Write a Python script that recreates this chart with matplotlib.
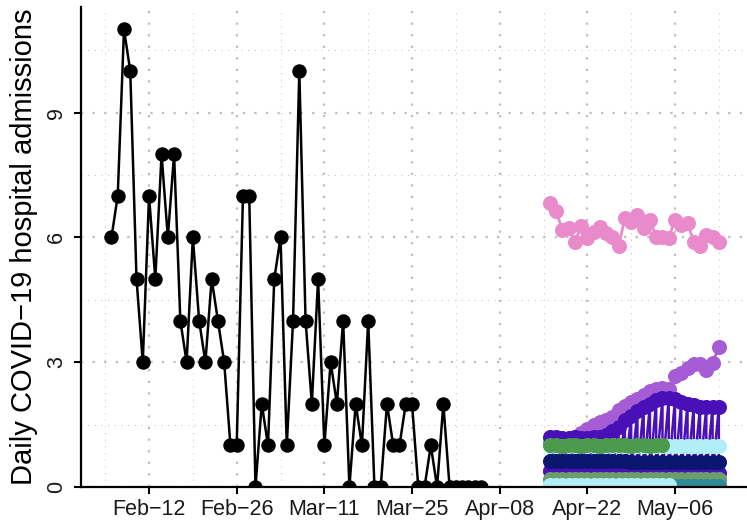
import matplotlib
matplotlib.use("Agg")
import matplotlib.pyplot as plt
import matplotlib.dates as mdates
import numpy as np
import pandas as pd

plt.rcParams['font.family'] = ['Liberation Sans', 'DejaVu Sans']

# ---------------- data ----------------
obs_start = "2024-02-06"
obs_values = [6, 7, 11, 10, 5, 3, 7, 5, 8, 6, 8, 4, 3, 6, 4, 3, 5, 4, 3, 1,
              1, 7, 7, 0, 2, 1, 5, 6, 1, 4, 10, 4, 2, 5, 1, 3, 2, 4, 0, 2,
              1, 4, 0, 0, 2, 1, 1, 2, 2, 0, 0, 1, 0, 2, 0, 0, 0, 0, 0, 0]

fc_start = "2024-04-16"
fc_pink_high = [6.82, 6.64, 6.18, 6.22, 5.90, 6.27, 5.98, 6.14, 6.26, 6.10, 6.02, 5.80, 6.46, 6.38,
                6.54, 6.22, 6.42, 6.02, 6.02, 5.98, 6.43, 6.30, 6.34, 5.90, 5.79, 6.06, 6.02, 5.90]
fc_purple = [1.05, 1.07, 1.10, 1.12, 1.20, 1.30, 1.40, 1.50, 1.56, 1.62, 1.68, 1.85, 1.95, 2.05,
             2.12, 2.20, 2.30, 2.35, 2.38, 2.36, 2.68, 2.75, 2.85, 2.95, 2.95, 2.82, 2.98, 3.37]
fc_pink_low = [0.42, 0.35, 0.30, 0.38, 0.32, 0.28, 0.30, 0.35, 0.40, 0.33, 0.30, 0.35, 0.38, 0.30,
               0.36, 0.30, 0.38, 0.34, 0.30, 0.25, 0.20, 0.18, 0.20, 0.15, 0.17, 0.14, 0.15, 0.12]
fc_violet_hi = [1.20, 1.20, 1.18, 1.18, 1.20, 1.18, 1.18, 1.20, 1.20, 1.25, 1.35, 1.45, 1.60, 1.70,
                1.82, 1.92, 2.00, 2.08, 2.15, 2.15, 2.12, 2.05, 2.00, 1.96, 1.93, 1.92, 1.92, 1.92]
fc_violet_lo = [0.38, 0.35, 0.36, 0.34, 0.38, 0.35, 0.36, 0.34, 0.35, 0.36, 0.34, 0.35, 0.33, 0.34,
                0.35, 0.33, 0.34, 0.35, 0.33, 0.34, 0.35, 0.33, 0.34, 0.33, 0.34, 0.33, 0.34, 0.33]
fc_sage = [0.20, 0.20, 0.19, 0.20, 0.20, 0.19, 0.20, 0.20, 0.19, 0.20, 0.20, 0.19, 0.20, 0.20,
           0.19, 0.20, 0.20, 0.19, 0.20, 0.20, 0.19, 0.20, 0.20, 0.19, 0.20, 0.20, 0.19, 0.20]
fc_teal = [0.03, 0.03, 0.03, 0.03, 0.03, 0.03, 0.03, 0.03, 0.03, 0.03, 0.03, 0.03, 0.03, 0.03,
           0.03, 0.03, 0.03, 0.03, 0.03, 0.03, 0.03, 0.03, 0.03, 0.03, 0.03, 0.03, 0.03, 0.03]
fc_cyan_low = [0.04, 0.04, 0.04, 0.04, 0.04, 0.04, 0.04, 0.04, 0.04, 0.04, 0.04, 0.04, 0.04, 0.04,
               0.04, 0.04, 0.04, 0.04, 0.04, 0.04]
fc_cyan = [0.98, 0.98, 0.98, 0.98, 0.98, 0.98, 0.98, 0.98, 0.98, 0.98, 0.98, 0.98, 0.98, 0.98,
           0.98, 0.98, 0.98, 0.98, 0.98, 0.98, 0.98, 0.98, 0.98, 0.98, 0.98, 0.98, 0.98, 0.98]
fc_green = [1.00, 1.00, 0.99, 1.00, 1.00, 0.99, 1.00, 1.00, 0.99, 1.00, 1.00, 1.00, 1.00, 0.99,
            1.00, 1.00, 0.99, 1.00, 1.00]
fc_navy = [0.63, 0.63, 0.62, 0.63, 0.63, 0.62, 0.63, 0.63, 0.62, 0.62, 0.62, 0.62, 0.62, 0.61,
           0.61, 0.61, 0.60, 0.60, 0.60, 0.60, 0.60, 0.60, 0.59, 0.59, 0.59, 0.59, 0.59, 0.59]

x_ticks = ["2024-02-12", "2024-02-26", "2024-03-11", "2024-03-25",
           "2024-04-08", "2024-04-22", "2024-05-06"]
y_ticks = [0, 3, 6, 9]
y_label = "Daily COVID\u221219 hospital admissions"

# ---------------- plot ----------------
fig = plt.figure(figsize=(7.47, 5.21), dpi=100)
ax = fig.add_axes([81.1 / 747, 34 / 521, (749.2 - 81.1) / 747, (487 - 6.5) / 521])

obs_dates = pd.date_range(obs_start, periods=len(obs_values), freq="D")
fc_dates = pd.date_range(fc_start, periods=28, freq="D")

lw = 1.8
ms = 9.4

ax.plot(obs_dates, obs_values, color="black", lw=lw, marker="o", ms=ms, zorder=5)

def fc(vals, color, z):
    d = fc_dates[:len(vals)]
    ax.plot(d, vals, color=color, lw=2.0, marker="o", ms=ms + 0.4, zorder=z)

fc(fc_pink_high, "#E98BCB", 3)
fc(fc_purple, "#A65CD4", 3.1)
fc(fc_pink_low, "#E98BD6", 3.2)

# zigzag model (two values per date)
zz_x = np.repeat(np.array(fc_dates), 2)
zz_y = np.empty(2 * len(fc_violet_hi))
zz_y[0::2] = fc_violet_hi
zz_y[1::2] = fc_violet_lo
ax.plot(zz_x, zz_y, color="#4A10B8", lw=1.8, marker="o", ms=ms + 0.4, zorder=3.3)

fc(fc_sage, "#6B9E6B", 3.4)
fc(fc_teal, "#2E8A98", 3.5)
fc(fc_cyan_low, "#B2EEF6", 3.6)
fc(fc_cyan, "#B2EEF6", 3.7)
fc(fc_green, "#4C9B4C", 3.8)
fc(fc_navy, "#0B166E", 3.9)

# axes limits
xmin = pd.Timestamp(obs_start) - pd.Timedelta(days=4.85)
xmax = fc_dates[-1] + pd.Timedelta(days=4.85)
ax.set_xlim(xmin, xmax)
ax.set_ylim(0, 11.55)

ax.set_xticks(pd.to_datetime(x_ticks))
ax.xaxis.set_major_formatter(mdates.DateFormatter("%b\u2212%d"))
minor_x = pd.to_datetime(x_ticks) - pd.Timedelta(days=7)
minor_x = list(minor_x) + [pd.to_datetime(x_ticks[-1]) + pd.Timedelta(days=7)]
ax.set_xticks(minor_x, minor=True)
ax.set_yticks(y_ticks)
ax.set_yticks([1.5, 4.5, 7.5, 10.5], minor=True)

ax.grid(which="major", color="#BDBDBD", lw=1.6, linestyle=(0, (1, 4.2)), zorder=0)
ax.grid(which="minor", color="#C8C8C8", lw=0.8, linestyle=(0, (1, 5)), zorder=0)
ax.set_axisbelow(True)

for s in ["top", "right"]:
    ax.spines[s].set_visible(False)
for s in ["left", "bottom"]:
    ax.spines[s].set_linewidth(1.6)
    ax.spines[s].set_color("black")
    ax.spines[s].set_zorder(10)

ax.tick_params(which="major", length=5, width=1.5, color="black",
               labelsize=15.5, labelcolor="#1A1A1A", pad=3.5)
ax.tick_params(which="minor", length=0)
ax.tick_params(axis="y", labelrotation=90, pad=5)
for lab in ax.get_yticklabels():
    lab.set_va("center")

ax.set_ylabel(y_label, fontsize=21, color="black", labelpad=6)

fig.savefig("out.png", dpi=100)
